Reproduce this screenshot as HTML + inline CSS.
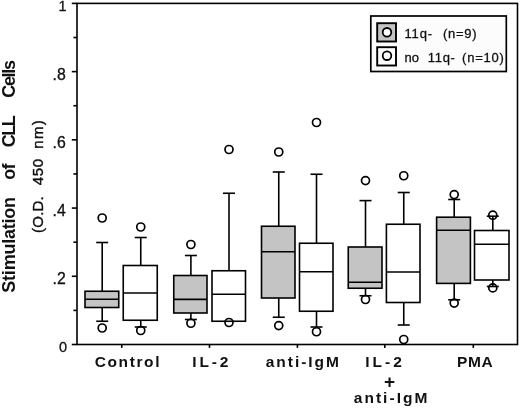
<!DOCTYPE html>
<html><head><meta charset="utf-8"><title>Stimulation of CLL Cells</title>
<style>
html,body{margin:0;padding:0;background:#fff;}
svg{display:block;}
text{font-family:"Liberation Sans",sans-serif;fill:#111;}
.b{font-weight:bold;font-size:15.5px;}
.y{font-weight:bold;font-size:18px;}
.t{font-size:15.8px;stroke:#111;stroke-width:0.3px;}
.u{font-size:14.5px;stroke:#111;stroke-width:0.3px;}
.l{font-size:13px;stroke:#111;stroke-width:0.3px;}
.s{font-size:15px;stroke:#111;stroke-width:0.4px;}
</style></head><body>
<svg width="520" height="408" viewBox="0 0 520 408">
<rect width="520" height="408" fill="#fff"/>
<g stroke="#000" stroke-width="1.6" fill="none" stroke-linecap="butt">
<rect x="77.0" y="3.4" width="440.5" height="341.1"/>
<line x1="71.80" y1="344.50" x2="77.0" y2="344.50"/>
<line x1="73.40" y1="310.39" x2="77.0" y2="310.39"/>
<line x1="71.80" y1="276.28" x2="77.0" y2="276.28"/>
<line x1="73.40" y1="242.17" x2="77.0" y2="242.17"/>
<line x1="71.80" y1="208.06" x2="77.0" y2="208.06"/>
<line x1="73.40" y1="173.95" x2="77.0" y2="173.95"/>
<line x1="71.80" y1="139.84" x2="77.0" y2="139.84"/>
<line x1="73.40" y1="105.73" x2="77.0" y2="105.73"/>
<line x1="71.80" y1="71.62" x2="77.0" y2="71.62"/>
<line x1="73.40" y1="37.51" x2="77.0" y2="37.51"/>
<line x1="71.80" y1="3.40" x2="77.0" y2="3.40"/>
<line x1="121.75" y1="344.5" x2="121.75" y2="347.90"/>
<line x1="209.5" y1="344.5" x2="209.5" y2="347.90"/>
<line x1="297.4" y1="344.5" x2="297.4" y2="347.90"/>
<line x1="384.8" y1="344.5" x2="384.8" y2="347.90"/>
<line x1="473.3" y1="344.5" x2="473.3" y2="347.90"/>
</g>
<g stroke="#000" stroke-width="1.6">
<rect x="85" y="291.25" width="33.75" height="16.25" fill="#c4c4c4" stroke="none"/><circle cx="102.2" cy="218" r="4" fill="#fff" stroke-width="1.7"/><circle cx="102.2" cy="328" r="4" fill="#fff" stroke-width="1.7"/><line x1="102.2" y1="242.5" x2="102.2" y2="291.25"/><line x1="96.2" y1="242.5" x2="108.2" y2="242.5"/><line x1="102.2" y1="307.5" x2="102.2" y2="321.25"/><line x1="96.2" y1="321.25" x2="108.2" y2="321.25"/><rect x="85" y="291.25" width="33.75" height="16.25" fill="none"/><line x1="85" y1="299.25" x2="118.75" y2="299.25"/>
<rect x="123.25" y="265.5" width="34.00" height="54.75" fill="#fff" stroke="none"/><circle cx="140.75" cy="227" r="4" fill="#fff" stroke-width="1.7"/><circle cx="140.75" cy="330.5" r="4" fill="#fff" stroke-width="1.7"/><line x1="140.75" y1="237.5" x2="140.75" y2="265.5"/><line x1="134.75" y1="237.5" x2="146.75" y2="237.5"/><line x1="140.75" y1="320.25" x2="140.75" y2="327"/><line x1="134.75" y1="327" x2="146.75" y2="327"/><rect x="123.25" y="265.5" width="34.00" height="54.75" fill="none"/><line x1="123.25" y1="293" x2="157.25" y2="293"/>
<rect x="173.75" y="275.5" width="33.25" height="37.50" fill="#c4c4c4" stroke="none"/><circle cx="190.9" cy="244.5" r="4" fill="#fff" stroke-width="1.7"/><circle cx="190.9" cy="323.25" r="4" fill="#fff" stroke-width="1.7"/><line x1="190.9" y1="255.5" x2="190.9" y2="275.5"/><line x1="184.9" y1="255.5" x2="196.9" y2="255.5"/><line x1="190.9" y1="313" x2="190.9" y2="319.5"/><line x1="184.9" y1="319.5" x2="196.9" y2="319.5"/><rect x="173.75" y="275.5" width="33.25" height="37.50" fill="none"/><line x1="173.75" y1="299.4" x2="207" y2="299.4"/>
<rect x="212" y="270.75" width="33.50" height="50.50" fill="#fff" stroke="none"/><circle cx="229" cy="149.5" r="4" fill="#fff" stroke-width="1.7"/><circle cx="229" cy="322.5" r="4" fill="#fff" stroke-width="1.7"/><line x1="229" y1="193.25" x2="229" y2="270.75"/><line x1="223" y1="193.25" x2="235" y2="193.25"/><rect x="212" y="270.75" width="33.50" height="50.50" fill="none"/><line x1="212" y1="294.25" x2="245.5" y2="294.25"/>
<rect x="261.5" y="226.25" width="33.50" height="71.75" fill="#c4c4c4" stroke="none"/><circle cx="278.75" cy="152" r="4" fill="#fff" stroke-width="1.7"/><circle cx="278.75" cy="325.6" r="4" fill="#fff" stroke-width="1.7"/><line x1="278.75" y1="172" x2="278.75" y2="226.25"/><line x1="272.75" y1="172" x2="284.75" y2="172"/><line x1="278.75" y1="298" x2="278.75" y2="317.25"/><line x1="272.75" y1="317.25" x2="284.75" y2="317.25"/><rect x="261.5" y="226.25" width="33.50" height="71.75" fill="none"/><line x1="261.5" y1="251.75" x2="295" y2="251.75"/>
<rect x="299.5" y="243.25" width="33.50" height="68.00" fill="#fff" stroke="none"/><circle cx="316.5" cy="122.5" r="4" fill="#fff" stroke-width="1.7"/><circle cx="316.5" cy="331.75" r="4" fill="#fff" stroke-width="1.7"/><line x1="316.5" y1="174.25" x2="316.5" y2="243.25"/><line x1="310.5" y1="174.25" x2="322.5" y2="174.25"/><line x1="316.5" y1="311.25" x2="316.5" y2="327"/><line x1="310.5" y1="327" x2="322.5" y2="327"/><rect x="299.5" y="243.25" width="33.50" height="68.00" fill="none"/><line x1="299.5" y1="271.75" x2="333" y2="271.75"/>
<rect x="348.25" y="247" width="33.75" height="41.25" fill="#c4c4c4" stroke="none"/><circle cx="365.5" cy="180.6" r="4" fill="#fff" stroke-width="1.7"/><circle cx="365.5" cy="299.5" r="4" fill="#fff" stroke-width="1.7"/><line x1="365.5" y1="200.6" x2="365.5" y2="247"/><line x1="359.5" y1="200.6" x2="371.5" y2="200.6"/><line x1="365.5" y1="288.25" x2="365.5" y2="295.75"/><line x1="359.5" y1="295.75" x2="371.5" y2="295.75"/><rect x="348.25" y="247" width="33.75" height="41.25" fill="none"/><line x1="348.25" y1="282.25" x2="382" y2="282.25"/>
<rect x="386.4" y="224.25" width="33.60" height="78.25" fill="#fff" stroke="none"/><circle cx="403.75" cy="175.75" r="4" fill="#fff" stroke-width="1.7"/><circle cx="403.75" cy="339.5" r="4" fill="#fff" stroke-width="1.7"/><line x1="403.75" y1="192.5" x2="403.75" y2="224.25"/><line x1="397.75" y1="192.5" x2="409.75" y2="192.5"/><line x1="403.75" y1="302.5" x2="403.75" y2="325"/><line x1="397.75" y1="325" x2="409.75" y2="325"/><rect x="386.4" y="224.25" width="33.60" height="78.25" fill="none"/><line x1="386.4" y1="272" x2="420" y2="272"/>
<rect x="436.6" y="217.2" width="33.80" height="66.20" fill="#c4c4c4" stroke="none"/><circle cx="454.2" cy="194.6" r="4" fill="#fff" stroke-width="1.7"/><circle cx="454.2" cy="303.1" r="4" fill="#fff" stroke-width="1.7"/><line x1="454.2" y1="199.5" x2="454.2" y2="217.2"/><line x1="448.2" y1="199.5" x2="460.2" y2="199.5"/><line x1="454.2" y1="283.4" x2="454.2" y2="299.8"/><line x1="448.2" y1="299.8" x2="460.2" y2="299.8"/><rect x="436.6" y="217.2" width="33.80" height="66.20" fill="none"/><line x1="436.6" y1="230.2" x2="470.4" y2="230.2"/>
<rect x="474.5" y="230.5" width="34.50" height="49.50" fill="#fff" stroke="none"/><circle cx="492.8" cy="215.2" r="4" fill="#fff" stroke-width="1.7"/><circle cx="492.8" cy="287.9" r="4" fill="#fff" stroke-width="1.7"/><line x1="492.8" y1="216.2" x2="492.8" y2="230.5"/><line x1="486.8" y1="216.2" x2="498.8" y2="216.2"/><line x1="492.8" y1="280" x2="492.8" y2="286.5"/><line x1="486.8" y1="286.5" x2="498.8" y2="286.5"/><rect x="474.5" y="230.5" width="34.50" height="49.50" fill="none"/><line x1="474.5" y1="244.3" x2="509" y2="244.3"/>
</g>
<g stroke="#000">
<rect x="370.8" y="16" width="135.5" height="55.5" fill="#fcfcfc" stroke-width="1.7"/>
<rect x="377.2" y="23.2" width="18.8" height="18.3" fill="#c4c4c4" stroke-width="1.9"/>
<rect x="377.2" y="47.2" width="18.8" height="18.3" fill="#fff" stroke-width="1.9"/>
<circle cx="387" cy="32.3" r="4.3" fill="#fff" stroke-width="1.8"/>
<circle cx="387" cy="55.7" r="4.3" fill="#fff" stroke-width="1.8"/>
</g>
<text class="t" x="65.8" y="79.5" text-anchor="end">.8</text>
<text class="t" x="65.8" y="147.7" text-anchor="end">.6</text>
<text class="t" x="65.8" y="215.8" text-anchor="end">.4</text>
<text class="t" x="65.8" y="283.9" text-anchor="end">.2</text>
<text class="u" x="66.6" y="11.4" text-anchor="end">1</text>
<text class="u" x="67.2" y="351.6" text-anchor="end">0</text>
<text class="b" x="389.5" y="388.1" id="plus" text-anchor="middle" style="font-size:19px">+</text>
<text id="l1a" class="l" x="404.55" y="38.3" textLength="27.47" lengthAdjust="spacing">11q-</text>
<text id="l1b" class="l" x="443.05" y="38.3" textLength="33.45" lengthAdjust="spacing">(n=9)</text>
<text id="l2a" class="l" x="404.55" y="61.5" textLength="14.45" lengthAdjust="spacing">no</text>
<text id="l2b" class="l" x="427.85" y="61.5" textLength="27.08" lengthAdjust="spacing">11q-</text>
<text id="l2c" class="l" x="462.05" y="61.5" textLength="41.89" lengthAdjust="spacing">(n=10)</text>
<text id="x1" class="b" x="94.65" y="367.1" textLength="64.82" lengthAdjust="spacing">Control</text>
<text id="x2" class="b" x="192.20" y="367.1" textLength="36.25" lengthAdjust="spacing">IL-2</text>
<text id="x3" class="b" x="265.70" y="367.1" textLength="73.29" lengthAdjust="spacing">anti-IgM</text>
<text id="x4a" class="b" x="365.25" y="367.1" textLength="36.67" lengthAdjust="spacing">IL-2</text>
<text id="x4c" class="b" x="353.75" y="403.2" textLength="73.68" lengthAdjust="spacing">anti-IgM</text>
<text id="x5" class="b" x="456.90" y="367.1" textLength="35.75" lengthAdjust="spacing">PMA</text>
<g transform="rotate(-90)">
<text id="y1" class="y" x="-292.70" y="14.9" textLength="95.75" lengthAdjust="spacing">Stimulation</text>
<text id="y2" class="y" x="-179.65" y="14.9" textLength="16.10" lengthAdjust="spacing">of</text>
<text id="y3" class="y" x="-147.25" y="14.9" textLength="31.88" lengthAdjust="spacing">CLL</text>
<text id="y4" class="y" x="-97.65" y="14.9" textLength="37.56" lengthAdjust="spacing">Cells</text>
<text id="s1" class="s" x="-232.95" y="43" textLength="36.71" lengthAdjust="spacing">(O.D.</text>
<text id="s2" class="s" x="-185.25" y="43" textLength="26.37" lengthAdjust="spacing">450</text>
<text id="s3" class="s" x="-148.75" y="43" textLength="28.62" lengthAdjust="spacing">nm)</text>
</g>
</svg>
</body></html>
